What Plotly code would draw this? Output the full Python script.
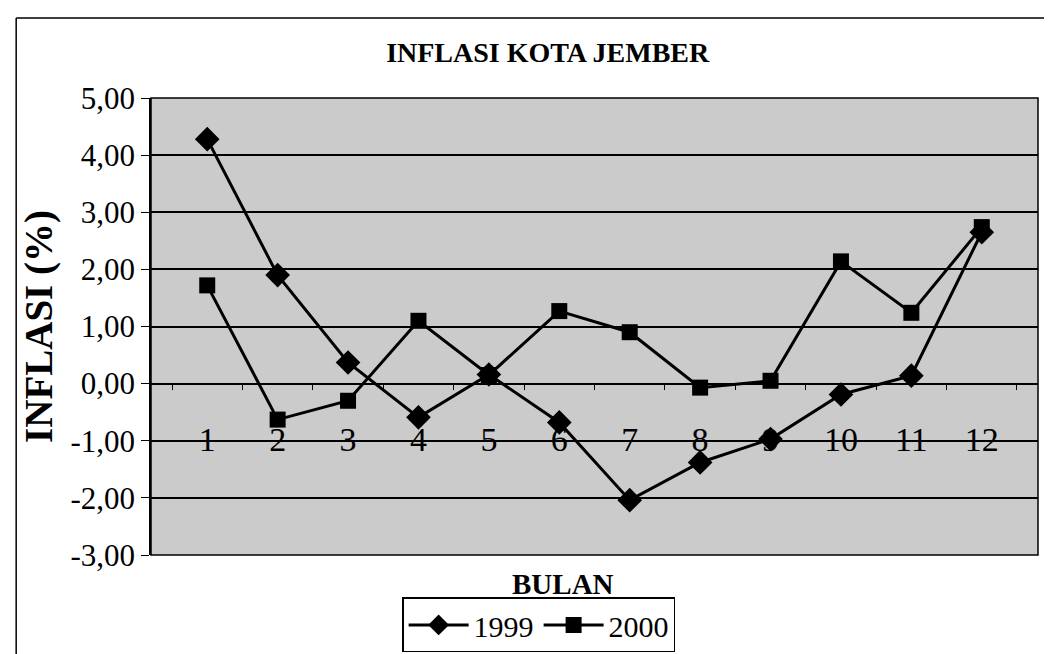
import plotly.graph_objects as go

months = ["1", "2", "3", "4", "5", "6", "7", "8", "9", "10", "11", "12"]
inf_1999 = [4.28, 1.90, 0.37, -0.59, 0.16, -0.68, -2.04, -1.38, -0.97, -0.19, 0.14, 2.65]
inf_2000 = [1.72, -0.63, -0.30, 1.10, 0.15, 1.27, 0.90, -0.07, 0.05, 2.14, 1.24, 2.74]
y_ticks = [-3, -2, -1, 0, 1, 2, 3, 4, 5]
y_ticktext = ["-3,00", "-2,00", "-1,00", "0,00", "1,00", "2,00", "3,00", "4,00", "5,00"]

SERIF = "Liberation Serif, Times New Roman, serif"

fig = go.Figure()
fig.add_trace(go.Scatter(
    x=months, y=inf_1999, name="1999", mode="lines+markers",
    line=dict(color="black", width=3),
    marker=dict(symbol="diamond", size=19, color="black"),
))
fig.add_trace(go.Scatter(
    x=months, y=inf_2000, name="2000", mode="lines+markers",
    line=dict(color="black", width=3),
    marker=dict(symbol="square", size=16, color="black"),
))

ymin, ymax = -3, 5
zero_pos = (0 - ymin) / (ymax - ymin)

fig.update_layout(
    width=1052, height=654,
    margin=dict(l=143, r=22, t=90, b=107, autoexpand=False),
    paper_bgcolor="white",
    plot_bgcolor="#cbcbcb",
    font=dict(family=SERIF, color="black", size=26),
    title=dict(text="<b>INFLASI KOTA JEMBER</b>", x=0.513, xanchor="center",
               y=0.932, yanchor="middle", font=dict(family=SERIF, size=28)),
    showlegend=True,
    legend=dict(orientation="h", x=0.437, xanchor="center", y=-0.153, yanchor="middle",
                bgcolor="white", bordercolor="black", borderwidth=1.5,
                font=dict(family=SERIF, size=30), itemwidth=60, tracegroupgap=0),
    xaxis=dict(
        type="category", anchor="free", position=zero_pos, automargin=False,
        showgrid=False, showline=True, linecolor="black", linewidth=1.5,
        ticks="outside", tickson="boundaries", ticklen=6, tickcolor="black",
        ticklabelstandoff=26, tickfont=dict(family=SERIF, size=34),
        zeroline=False,
    ),
    yaxis=dict(
        range=[ymin, ymax], tickvals=y_ticks, ticktext=y_ticktext, automargin=False,
        showgrid=True, gridcolor="black", gridwidth=2,
        showline=True, linecolor="black", linewidth=1.5,
        ticks="outside", ticklen=8, tickcolor="black",
        tickfont=dict(family=SERIF, size=31),
        zeroline=False,
        title=dict(text="<b>INFLASI (%)</b>", font=dict(family=SERIF, size=39), standoff=6),
    ),
    annotations=[
        dict(text="<b>BULAN</b>", xref="paper", yref="paper", x=0.465, y=-0.063,
             xanchor="center", yanchor="middle", showarrow=False,
             font=dict(family=SERIF, size=29)),
    ],
    shapes=[
        dict(type="rect", xref="paper", yref="paper", x0=0, y0=0, x1=1, y1=1,
             line=dict(color="black", width=1.5), layer="above"),
        dict(type="line", xref="paper", yref="paper", x0=-0.152, x1=1.02, y0=1.175, y1=1.175,
             line=dict(color="black", width=1.5)),
        dict(type="line", xref="paper", yref="paper", x0=-0.152, x1=-0.152, y0=1.175, y1=-0.24,
             line=dict(color="black", width=1.5)),
    ],
)

fig.write_html("out.html")
